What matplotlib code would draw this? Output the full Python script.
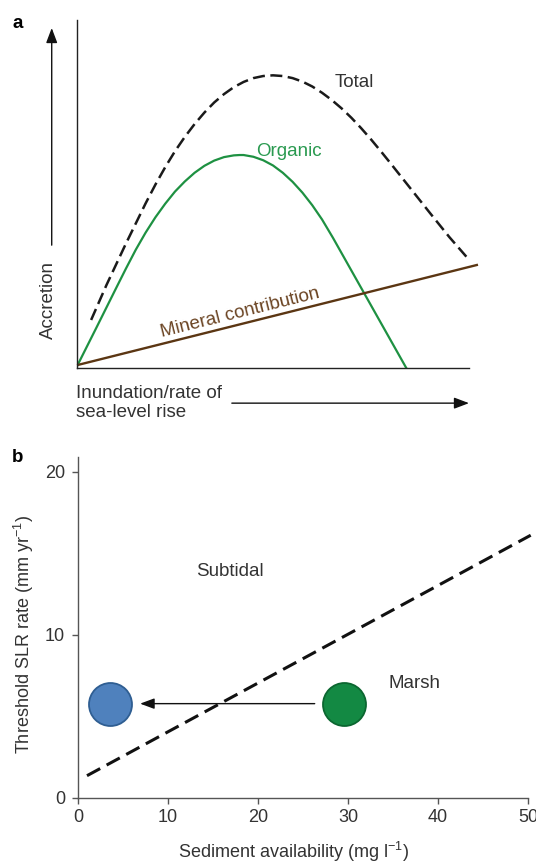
import numpy as np
import matplotlib
matplotlib.use('Agg')
import matplotlib.pyplot as plt

plt.rcParams['font.family'] = ['Liberation Sans', 'DejaVu Sans']
plt.rcParams['mathtext.fontset'] = 'custom'
plt.rcParams['mathtext.rm'] = 'Liberation Sans'
plt.rcParams['mathtext.it'] = 'Liberation Sans:italic'

# ---- panel a: schematic accretion curves (arbitrary units, 0-10) ----
organic_x = [0.0, 0.5, 1.0, 1.25, 1.5, 1.75, 2.0, 2.25, 2.5, 2.75, 3.0, 3.25, 3.5,
             3.75, 4.0, 4.15, 4.25, 4.5, 4.75, 5.0, 5.25, 5.5, 5.75, 6.0, 6.25,
             6.53, 7.0, 7.5, 8.0, 8.4]
organic_y = [0.05, 1.17, 2.30, 2.86, 3.40, 3.89, 4.33, 4.72, 5.07, 5.36, 5.61, 5.81, 5.96,
             6.06, 6.11, 6.12, 6.12, 6.07, 5.97, 5.82, 5.61, 5.35, 5.04, 4.68, 4.27,
             3.74, 2.80, 1.80, 0.80, 0.0]

total_x = [0.36, 0.75, 1.25, 1.75, 2.0, 2.25, 2.5, 2.75, 3.0, 3.25, 3.5, 3.75, 4.0,
           4.25, 4.5, 4.75, 5.0, 5.25, 5.5, 5.75, 6.0, 6.25, 6.5, 6.75, 7.0, 7.25,
           7.5, 7.75, 8.0, 8.5, 9.0, 9.5, 9.97]
total_y = [1.38, 2.38, 3.58, 4.73, 5.27, 5.77, 6.23, 6.64, 7.01, 7.34, 7.63, 7.87, 8.07,
           8.22, 8.33, 8.39, 8.41, 8.39, 8.33, 8.23, 8.09, 7.91, 7.70, 7.46, 7.19, 6.89,
           6.57, 6.23, 5.88, 5.17, 4.46, 3.76, 3.15]

mineral_x = [0.03, 10.2]
mineral_y = [0.09, 2.96]

# ---- panel b: threshold SLR vs sediment ----
threshold_x = [1.0, 50.3]
threshold_y = [1.35, 16.1]
marsh_point = (29.6, 5.77)
subtidal_point = (3.5, 5.77)
xticks_b = [0, 10, 20, 30, 40, 50]
yticks_b = [0, 10, 20]

green = '#1e9142'
brown = '#5b3613'
txt = '#333333'

fig = plt.figure(figsize=(5.36, 8.63), dpi=100)

# panel a
ax = fig.add_axes([77/536, 1-368/863, 392/536, 348/863])
ax.set_xlim(0, 10)
ax.set_ylim(0, 10)
ax.plot(organic_x, organic_y, color=green, lw=1.6, solid_joinstyle='round')
ax.plot(mineral_x, mineral_y, color=brown, lw=1.7, clip_on=False)
ax.plot(total_x, total_y, color='#1a1a1a', lw=1.8, dashes=(4.8, 2.2))
for s in ['top', 'right']:
    ax.spines[s].set_visible(False)
for s in ['left', 'bottom']:
    ax.spines[s].set_color('#222222')
    ax.spines[s].set_linewidth(1.0)
ax.set_xticks([])
ax.set_yticks([])

ax.text(6.58, 8.07, 'Total', color=txt, fontsize=13.5, va='baseline')
ax.text(4.57, 6.09, 'Organic', color='#2a9a50', fontsize=13.5, va='baseline')
ax.text(4.16, 1.58, 'Mineral contribution', color='#6b4423', fontsize=13.5,
        rotation=14, ha='center', va='center')

ax.annotate('', xy=(-0.645, 9.77), xytext=(-0.645, 3.53), annotation_clip=False,
            arrowprops=dict(arrowstyle='-|>,head_length=9,head_width=3.4', mutation_scale=1,
                            color='#111111', lw=1.0, shrinkA=0, shrinkB=0))
ax.annotate('', xy=(10.0, -1.01), xytext=(3.95, -1.01), annotation_clip=False,
            arrowprops=dict(arrowstyle='-|>,head_length=9,head_width=3.4', mutation_scale=1,
                            color='#111111', lw=1.0, shrinkA=0, shrinkB=0))
ax.text(-0.74, 1.95, 'Accretion', color=txt, fontsize=13.5, rotation=90,
        ha='center', va='center')
ax.text(-0.03, -0.86, 'Inundation/rate of', color=txt, fontsize=13.5, va='baseline')
ax.text(-0.03, -1.42, 'sea-level rise', color=txt, fontsize=13.5, va='baseline')
fig.text(18/536, 1-23/863, 'a', fontsize=13.5, fontweight='bold', ha='center', va='center')

# panel b
bx = fig.add_axes([78/536, 1-797.7/863, 450/536, 340.7/863])
bx.set_xlim(0, 50)
bx.set_ylim(0, 20.9)
bx.plot(threshold_x, threshold_y, color='#111111', lw=2.2, dashes=(4.9, 2.4), clip_on=False)
bx.annotate('', xy=(6.9, marsh_point[1]), xytext=(26.3, marsh_point[1]),
            arrowprops=dict(arrowstyle='-|>,head_length=8.6,head_width=3.2', mutation_scale=1,
                            color='#111111', lw=1.0, shrinkA=0, shrinkB=0))
bx.scatter([subtidal_point[0]], [subtidal_point[1]], s=958, color='#4f81bd',
           edgecolor='#2f5e92', linewidth=1.3, zorder=3, clip_on=False)
bx.scatter([marsh_point[0]], [marsh_point[1]], s=958, color='#138943',
           edgecolor='#0b6630', linewidth=1.3, zorder=3, clip_on=False)
bx.text(16.9, 13.85, 'Subtidal', color=txt, fontsize=13.5, ha='center', va='center')
bx.text(37.4, 7.0, 'Marsh', color=txt, fontsize=13.5, ha='center', va='center')

for s in ['top', 'right']:
    bx.spines[s].set_visible(False)
for s in ['left', 'bottom']:
    bx.spines[s].set_color('#555555')
    bx.spines[s].set_linewidth(1.0)
bx.set_xticks(xticks_b)
bx.set_yticks(yticks_b)
bx.tick_params(direction='out', length=4.3, width=1.0, color='#555555',
               labelsize=13, labelcolor=txt)
bx.tick_params(axis='x', pad=3.5)
bx.tick_params(axis='y', pad=5)
bx.set_xlabel(r'Sediment availability (mg l$^{-1}$)', fontsize=13, color=txt, va='baseline')
bx.xaxis.set_label_coords(0.478, -0.177)
bx.set_ylabel(r'Threshold SLR rate (mm yr$^{-1}$)', fontsize=13, color=txt, va='center')
bx.yaxis.set_label_coords(-0.120, 0.4776)
fig.text(18/536, 1-457/863, 'b', fontsize=13.5, fontweight='bold', ha='center', va='center')

plt.savefig('out.png', dpi=100)
